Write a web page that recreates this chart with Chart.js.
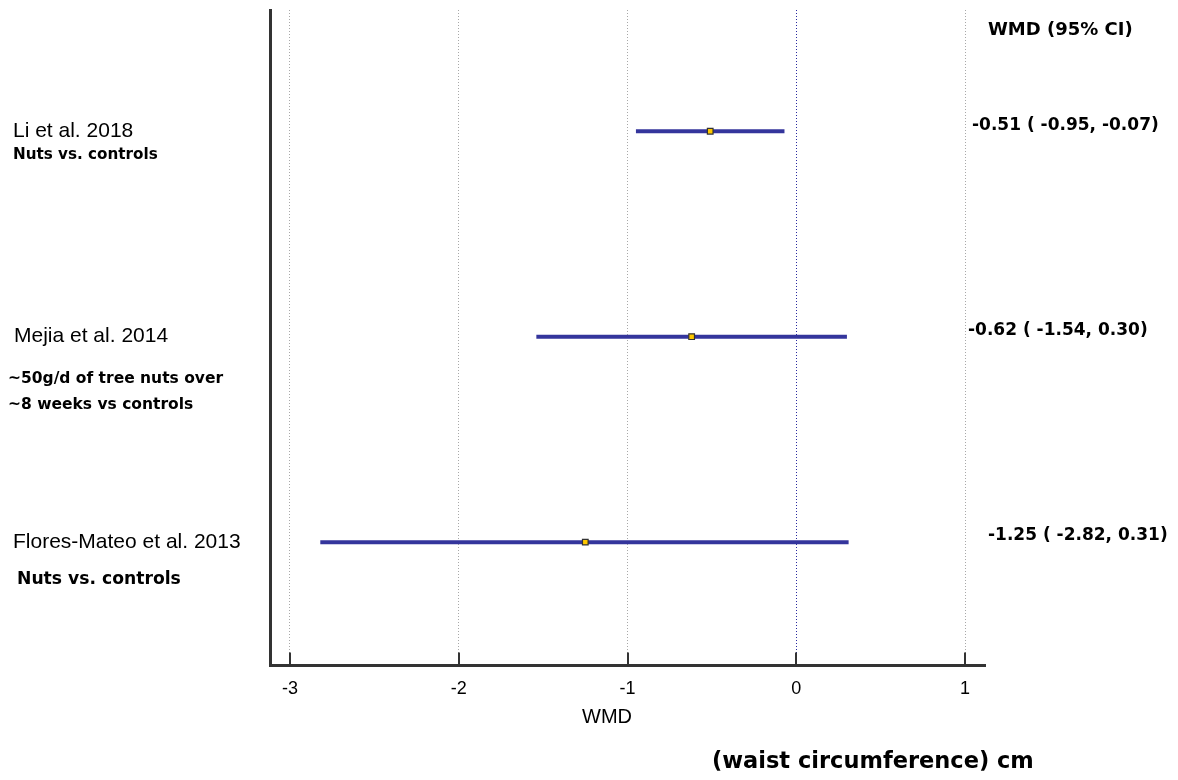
<!DOCTYPE html>
<html>
<head>
<meta charset="utf-8">
<script src="https://cdn.jsdelivr.net/npm/chart.js@4.4.1/dist/chart.umd.min.js"></script>
<style>
  html, body { margin: 0; padding: 0; background: #fff; }
  #wrap { width: 1178px; height: 780px; }
</style>
</head>
<body>
<div id="wrap"><canvas id="forest" width="1178" height="780"></canvas></div>
<script>
const studies = ['Li et al. 2018', 'Mejia et al. 2014', 'Flores-Mateo et al. 2013'];
const comparisons = [
    ['Nuts vs. controls'],
    ['~50g/d of tree nuts over', '~8 weeks vs controls'],
    ['Nuts vs. controls']
];
const wmd = [-0.51, -0.62, -1.25];
const lower = [-0.95, -1.54, -2.82];
const upper = [-0.07, 0.30, 0.31];
const rows = [3, 2, 1];
const xTicks = [-3, -2, -1, 0, 1];

const lineColor = '#34359c';

const datasets = [];
studies.forEach((name, i) => {
    datasets.push({
        label: name + ' CI',
        data: [{ x: lower[i], y: rows[i] }, { x: upper[i], y: rows[i] }],
        showLine: true,
        borderColor: lineColor,
        borderWidth: 4,
        pointRadius: 0,
        order: 2
    });
});
datasets.push({
    label: 'WMD',
    data: wmd.map((v, i) => ({ x: v, y: rows[i] })),
    pointStyle: 'rect',
    pointRadius: 4,
    pointBorderWidth: 1.2,
    backgroundColor: '#ffc800',
    borderColor: '#333333',
    order: 1
});

// labels, CI text and inward tick marks
const forestText = {
    id: 'forestText',
    afterDraw(chart) {
        const ctx = chart.ctx;
        const x = chart.scales.x;
        const y = chart.scales.y;
        const area = chart.chartArea;

        ctx.save();
        ctx.strokeStyle = '#333333';
        ctx.lineWidth = 2;
        xTicks.forEach(t => {
            const px = Math.round(x.getPixelForValue(t));
            ctx.beginPath();
            ctx.moveTo(px, area.bottom);
            ctx.lineTo(px, area.bottom - 13);
            ctx.stroke();
        });

        ctx.fillStyle = '#000';
        ctx.textBaseline = 'middle';
        ctx.textAlign = 'left';

        const nameFont = '21px "Liberation Sans", Arial, sans-serif';
        const boldFont = s => 'bold ' + s + 'px "DejaVu Sans", sans-serif';

        // study 1
        let py = y.getPixelForValue(rows[0]);
        ctx.font = nameFont;
        ctx.fillText(studies[0], 13, py);
        ctx.font = boldFont(15.2);
        ctx.fillText(comparisons[0][0], 13, py + 24);

        // study 2
        py = y.getPixelForValue(rows[1]);
        ctx.font = nameFont;
        ctx.fillText(studies[1], 14, py);
        ctx.font = boldFont(15.5);
        ctx.fillText(comparisons[1][0], 8, py + 42);
        ctx.fillText(comparisons[1][1], 8, py + 68);

        // study 3
        py = y.getPixelForValue(rows[2]);
        ctx.font = nameFont;
        ctx.fillText(studies[2], 13, py);
        ctx.font = boldFont(17.2);
        ctx.fillText(comparisons[2][0], 17, py + 37);

        // WMD (95% CI) column
        ctx.font = boldFont(18);
        ctx.fillText('WMD (95% CI)', 988, 30);
        ctx.font = boldFont(17);
        const ciX = [972, 968, 988];
        const ciDy = [-6, -6, -7];
        wmd.forEach((v, i) => {
            const txt = v.toFixed(2) + ' ( ' + lower[i].toFixed(2) + ', ' + upper[i].toFixed(2) + ')';
            ctx.fillText(txt, ciX[i], y.getPixelForValue(rows[i]) + ciDy[i]);
        });

        // axis titles
        ctx.textAlign = 'center';
        ctx.font = '20px "Liberation Sans", Arial, sans-serif';
        ctx.fillText('WMD', 607, 717);
        ctx.textAlign = 'left';
        ctx.font = boldFont(22.5);
        ctx.fillText('(waist circumference) cm', 712, 762);
        ctx.restore();
    }
};

new Chart(document.getElementById('forest'), {
    type: 'scatter',
    data: { datasets: datasets },
    options: {
        responsive: false,
        animation: false,
        layout: { padding: { left: 270, right: 193, top: 10, bottom: 67 } },
        plugins: {
            legend: { display: false },
            tooltip: { enabled: false }
        },
        scales: {
            x: {
                type: 'linear',
                min: -3.118,
                max: 1.118,
                afterBuildTicks: scale => {
                    scale.ticks = xTicks.map(v => ({ value: v }));
                },
                ticks: {
                    color: '#000',
                    padding: 13,
                    font: { family: '"Liberation Sans", Arial, sans-serif', size: 18 }
                },
                grid: {
                    drawTicks: false,
                    color: ctx => ctx.tick && ctx.tick.value === 0 ? '#2a2aa0' : '#a8a8a8',
                    lineWidth: 1
                },
                border: { display: true, color: '#333333', width: 3, dash: [1, 2] }
            },
            y: {
                type: 'linear',
                min: 0.4,
                max: 3.59,
                ticks: { display: false },
                grid: { display: false, drawTicks: false },
                border: { display: true, color: '#333333', width: 3 }
            }
        }
    },
    plugins: [forestText]
});
</script>
</body>
</html>
